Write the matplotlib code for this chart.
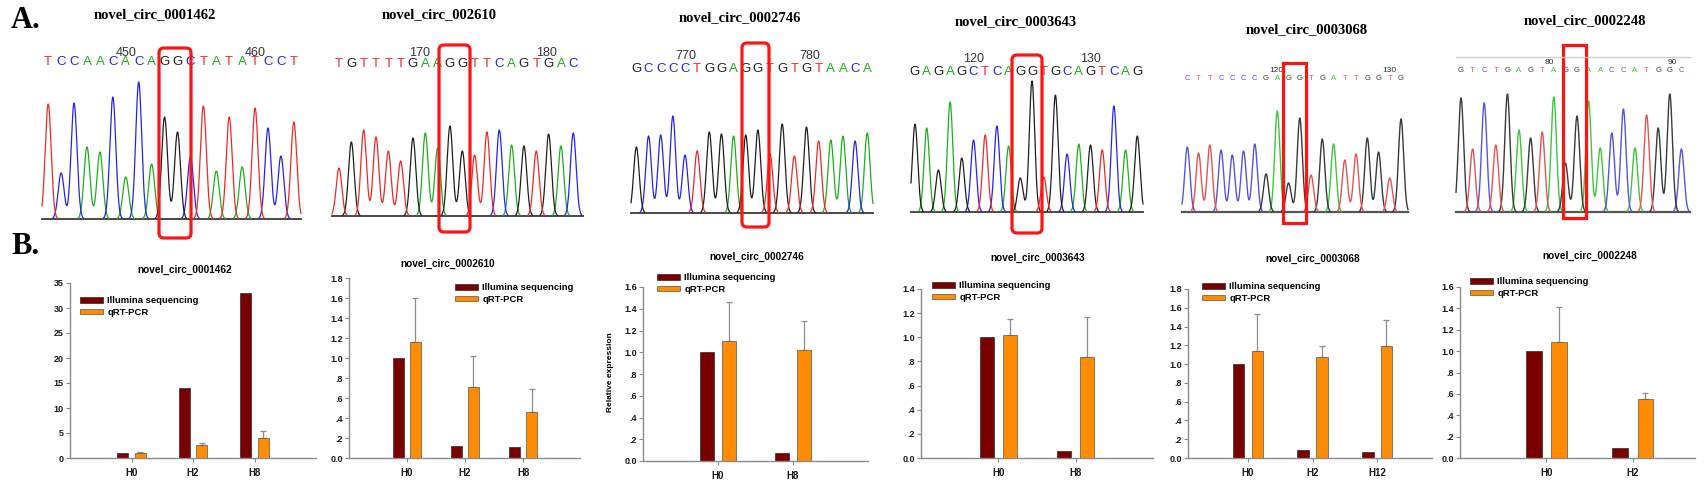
import numpy as np
import matplotlib
matplotlib.use('Agg')
import matplotlib.pyplot as plt
from matplotlib import transforms
from matplotlib.patches import FancyBboxPatch
from matplotlib.ticker import FuncFormatter, MultipleLocator

W, H = 1705, 493

# ---------------- A. sequencing traces (bases + peak heights)
seq_names = ['novel_circ_0001462', 'novel_circ_002610', 'novel_circ_0002746',
             'novel_circ_0003643', 'novel_circ_0003068', 'novel_circ_0002248']
seq_bases = ['TCCAACACAGGCTATATCCT', 'TGTTTTGAAGGTTCAGTGAC', 'GCCCCTGGAGGTGTGTAACA',
             'GAGAGCTCAGGTGCAGTCAG', 'CTTCCCCGAGGTGATTGGTG', 'GTCTGAGTAGGAACCATGGC']
peak_heights = [
    [115, 46, 116, 72, 67, 122, 42, 137, 55, 102, 87, 62, 113, 48, 102, 52, 111, 91, 63, 97],
    [48, 74, 86, 79, 65, 55, 78, 83, 68, 90, 65, 61, 84, 86, 71, 70, 65, 82, 70, 83],
    [66, 77, 78, 97, 58, 62, 81, 79, 77, 78, 83, 59, 89, 57, 86, 72, 73, 77, 72, 80],
    [88, 84, 42, 110, 54, 72, 77, 86, 66, 34, 131, 35, 117, 58, 68, 67, 62, 106, 62, 76],
    [65, 59, 67, 62, 57, 61, 68, 38, 101, 29, 94, 37, 73, 68, 52, 58, 74, 60, 34, 93],
    [114, 63, 109, 67, 118, 82, 74, 80, 115, 49, 96, 111, 64, 79, 103, 64, 97, 84, 118, 63],
]
pos_labels = [[('450', 6), ('460', 16)], [('170', 6.5), ('180', 16.8)], [('770', 4.1), ('780', 14.3)],
              [('120', 5), ('130', 15)], [('120', 7.9), ('130', 18)], [('80', 7.6), ('90', 18.2)]]

# ---------------- B. relative expression
bar_titles = ['novel_circ_0001462', 'novel_circ_0002610', 'novel_circ_0002746',
              'novel_circ_0003643', 'novel_circ_0003068', 'novel_circ_0002248']
bar_cats = [['H0', 'H2', 'H8'], ['H0', 'H2', 'H8'], ['H0', 'H8'],
            ['H0', 'H8'], ['H0', 'H2', 'H12'], ['H0', 'H2']]
illumina = [[1.0, 14.0, 33.0], [1.0, 0.12, 0.11], [1.0, 0.07],
            [1.0, 0.06], [1.0, 0.08, 0.065], [1.0, 0.095]]
qpcr = [[1.05, 2.7, 4.0], [1.165, 0.71, 0.465], [1.10, 1.02],
        [1.02, 0.84], [1.135, 1.075, 1.195], [1.085, 0.55]]
qpcr_err = [[0.15, 0.4, 1.5], [0.44, 0.31, 0.23], [0.36, 0.27],
            [0.135, 0.33], [0.40, 0.12, 0.28], [0.325, 0.06]]
y_max = [35, 1.8, 1.6, 1.4, 1.8, 1.6]
y_step = [5, 0.2, 0.2, 0.2, 0.2, 0.2]

# layout of the traces in pixels: first peak x, peak spacing, baseline y, trace start, trace end
trace_px = [(48.2, 12.93, 219, 42, 301), (339, 12.33, 216, 332, 583), (636.4, 12.15, 213, 631, 873),
            (915, 11.7, 212, 911, 1143), (1187.3, 11.25, 212, 1182, 1408), (1461, 11.6, 212, 1456, 1690)]
letter_y = [62, 64, 69, 72, 79, 71]
number_y = [53, 53, 56, 59, 70, 62]
title_xy = [(155, 15), (439, 15), (740, 18), (1016, 22), (1307, 30), (1585, 21)]
boxes = [(159, 191, 48, 238), (439, 470, 45, 232), (742, 769, 43, 227),
         (1012, 1042, 55, 233), (1283, 1306, 63, 223), (1563, 1586, 45, 218)]

# bar axes in pixels: left, right, top, bottom ; x limits
bar_px = [(70, 316, 283, 458), (349, 580, 278, 458), (643, 868, 287, 461),
          (921, 1153, 289, 458), (1188, 1432, 289, 458), (1460, 1695, 287, 458)]
bar_xlim = [(0, 4), (0, 3.98), (0, 3), (0, 3), (0.07, 3.85), (0, 2.72)]
bar_title_xy = [(185, 270), (448, 264), (757, 257), (1038, 258), (1313, 259), (1590, 256)]
legend_xy = [(80, 302), (455, 289), (657, 279), (932, 287), (1202, 288), (1470, 283)]

sans = 'Liberation Sans'
serif = 'Liberation Serif'

col_dark = {'A': '#1cb01c', 'C': '#2424ee', 'G': '#1e1e1e', 'T': '#f02828'}
col_light = {'A': '#3cc83c', 'C': '#5555e0', 'G': '#3a3a3a', 'T': '#e35555'}


def rect(l, r, t, b):
    return [l / W, 1 - b / H, (r - l) / W, (b - t) / H]


fig = plt.figure(figsize=(W / 100, H / 100), dpi=100)

# overlay in pixel coordinates for boxes and free text
ov = fig.add_axes([0, 0, 1, 1], zorder=10)
ov.set_xlim(0, W)
ov.set_ylim(H, 0)
ov.axis('off')
ov.patch.set_alpha(0)

ov.text(11, 21, 'A.', family=serif, fontsize=22, fontweight='bold', va='center', ha='left')
ov.text(11, 246, 'B.', family=serif, fontsize=22, fontweight='bold', va='center', ha='left')

for k in range(6):
    first, sp, base_y, x0, x1 = trace_px[k]
    small = k >= 4
    cols = col_light if small else col_dark
    ax = fig.add_axes(rect(x0, x1, base_y - 150, base_y))
    ax.set_xlim((x0 - first) / sp, (x1 - first) / sp)
    ax.set_ylim(0, 150)
    ax.axis('off')
    xs = np.linspace((x0 - first) / sp, (x1 - first) / sp, 1500)
    ax.axhline(0, color='#555555' if small else '#3a3a3a', lw=1.6 if small else 1.3,
               clip_on=False, zorder=1)
    for b in 'ACGT':
        ys = np.zeros_like(xs)
        for i, (s, h) in enumerate(zip(seq_bases[k], peak_heights[k])):
            if s == b:
                ys += h * np.exp(-0.5 * ((xs - i) / 0.23) ** 2)
        ys[ys < 0.8] = np.nan
        ax.plot(xs, ys, color=cols[b], lw=1.0 if small else 0.9, clip_on=False, zorder=2)
    tr = transforms.blended_transform_factory(ax.transData, ov.transData)
    for i, s in enumerate(seq_bases[k]):
        ax.text(i, letter_y[k], s, transform=tr, ha='center', va='center', color=cols[s],
                family=sans, fontsize=5.5 if small else 9.5, clip_on=False)
    for lab, i in pos_labels[k]:
        ax.text(i, number_y[k], lab, transform=tr, ha='center', va='center', color='#333333',
                family=sans, fontsize=6 if small else 9, clip_on=False)
    tx, ty = title_xy[k]
    ov.text(tx, ty, seq_names[k], family=serif, fontweight='bold', fontsize=10.5,
            ha='center', va='center')
    bx0, bx1, by0, by1 = boxes[k]
    style = 'square,pad=0' if small else 'round,pad=0,rounding_size=5'
    ov.add_patch(FancyBboxPatch((bx0, by0), bx1 - bx0, by1 - by0, boxstyle=style,
                                fill=False, ec='#ff1414', lw=2.3))
    if k == 5:
        ov.plot([x0, x1], [57, 57], color='#d0d0d0', lw=1)


def fmt(v, pos):
    if abs(v) < 1e-9:
        return '0.0'
    s = f'{v:.1f}'
    return s[1:] if v < 1 else s


for k in range(6):
    ax = fig.add_axes(rect(*bar_px[k]))
    n = len(bar_cats[k])
    x = np.arange(1, n + 1)
    b1 = ax.bar(x - 0.145, illumina[k], 0.18, color='#7a0000', ec='#2a2a2a', lw=0.5,
                label='Illumina sequencing', zorder=2)
    b2 = ax.bar(x + 0.145, qpcr[k], 0.18, color='#ff8c00', ec='#555555', lw=0.5,
                label='qRT-PCR', zorder=2)
    ax.errorbar(x + 0.145, qpcr[k], yerr=[np.zeros(n), qpcr_err[k]], fmt='none',
                ecolor='#8c8c8c', elinewidth=0.9, capsize=2, capthick=0.9, zorder=1)
    ax.set_xlim(*bar_xlim[k])
    ax.set_ylim(0, y_max[k])
    ax.yaxis.set_major_locator(MultipleLocator(y_step[k]))
    if k == 0:
        ax.yaxis.set_major_formatter(FuncFormatter(lambda v, p: f'{v:.0f}'))
    else:
        ax.yaxis.set_major_formatter(FuncFormatter(fmt))
    ax.set_xticks(x)
    ax.set_xticklabels(bar_cats[k])
    for sp in ('top', 'right'):
        ax.spines[sp].set_visible(False)
    for sp in ('left', 'bottom'):
        ax.spines[sp].set_color('#8a8a8a')
        ax.spines[sp].set_linewidth(1.0)
    ax.patch.set_alpha(0)
    ax.tick_params(axis='y', length=3, width=0.8, color='#8a8a8a', pad=1.5, labelsize=6.5)
    ax.tick_params(axis='x', length=3, width=0.8, color='#8a8a8a', pad=4, labelsize=7)
    for t in ax.get_xticklabels() + ax.get_yticklabels():
        t.set_family(sans)
        t.set_fontweight('bold')
        t.set_color('#1a1a1a')
    lx, ly = legend_xy[k]
    ax.legend(handles=[b1, b2], loc='upper left', frameon=False,
              bbox_to_anchor=(lx / W, 1 - (ly - 6) / H), bbox_transform=fig.transFigure,
              borderpad=0, borderaxespad=0, handlelength=2.4, handleheight=0.55,
              handletextpad=0.5, labelspacing=0.3,
              prop={'family': sans, 'weight': 'bold', 'size': 6.8})
    tx, ty = bar_title_xy[k]
    ov.text(tx, ty, bar_titles[k], family=sans, fontweight='bold', fontsize=7.2,
            ha='center', va='center')

ov.text(610, 372, 'Relative expression', family=sans, fontweight='bold', fontsize=6,
        rotation=90, ha='center', va='center')

fig.savefig('out.png', dpi=100)
